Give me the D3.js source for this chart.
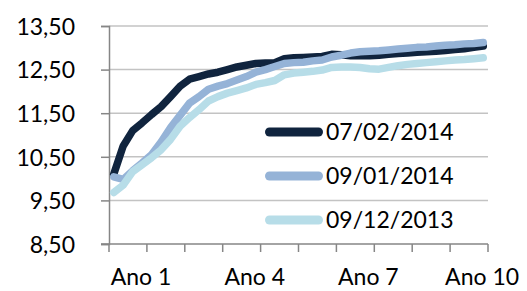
<!DOCTYPE html>
<html>
<head>
<meta charset="utf-8">
<script src="https://cdn.jsdelivr.net/npm/d3@7"></script>
<style>
  html, body { margin: 0; padding: 0; background: #fff; }
  svg { display: block; font-family: Lato, "Open Sans", sans-serif; }
</style>
</head>
<body>
<div id="chart"></div>
<script>
// anos no eixo x (10 anos, pontos trimestrais)
const years = ["Ano 1", "Ano 2", "Ano 3", "Ano 4", "Ano 5", "Ano 6", "Ano 7", "Ano 8", "Ano 9", "Ano 10"];
const shownYears = ["Ano 1", "Ano 4", "Ano 7", "Ano 10"];
const yTicks = [8.5, 9.5, 10.5, 11.5, 12.5, 13.5];

const seriesNames = ["07/02/2014", "09/01/2014", "09/12/2013"];

const curve07022014 = [
  10.10, 10.75, 11.10, 11.28, 11.47, 11.65, 11.88, 12.12, 12.28, 12.34,
  12.40, 12.44, 12.50, 12.56, 12.60, 12.64, 12.65, 12.66, 12.75, 12.77,
  12.78, 12.79, 12.80, 12.85, 12.84, 12.82, 12.82, 12.82, 12.83, 12.85,
  12.87, 12.88, 12.90, 12.91, 12.92, 12.94, 12.96, 12.98, 13.01, 13.04,
];
const curve09012014 = [
  10.04, 9.98, 10.18, 10.36, 10.55, 10.84, 11.17, 11.45, 11.73, 11.88,
  12.05, 12.12, 12.18, 12.26, 12.34, 12.44, 12.50, 12.57, 12.64, 12.66,
  12.67, 12.70, 12.72, 12.79, 12.83, 12.88, 12.91, 12.92, 12.93, 12.95,
  12.97, 12.99, 13.01, 13.02, 13.04, 13.06, 13.07, 13.09, 13.10, 13.12,
];
const curve09122013 = [
  9.68, 9.85, 10.16, 10.32, 10.48, 10.66, 10.90, 11.20, 11.40, 11.58,
  11.78, 11.88, 11.96, 12.02, 12.08, 12.16, 12.20, 12.25, 12.38, 12.42,
  12.44, 12.46, 12.49, 12.55, 12.56, 12.56, 12.55, 12.52, 12.51, 12.55,
  12.59, 12.62, 12.64, 12.66, 12.68, 12.70, 12.72, 12.73, 12.75, 12.77,
];

const colors = ["#10243e", "#95b3d7", "#b7dde8"];

const width = 527;
const height = 291;
const margin = { top: 26, right: 39, bottom: 47, left: 109 };
const fontSize = 23;

const series = seriesNames.map((name, i) => ({
  name,
  color: colors[i],
  values: [curve07022014, curve09012014, curve09122013][i],
}));

const ptsPerYear = curve07022014.length / years.length;

const xYear = d3
  .scaleLinear()
  .domain([0, years.length])
  .range([margin.left, width - margin.right]);
const y = d3
  .scaleLinear()
  .domain([d3.min(yTicks), d3.max(yTicks)])
  .range([height - margin.bottom, margin.top]);

const fmt = d3.formatLocale({ decimal: ",", thousands: ".", grouping: [3], currency: ["R$", ""] }).format(".2f");

const svg = d3
  .select("#chart")
  .append("svg")
  .attr("width", width)
  .attr("height", height)
  .attr("viewBox", [0, 0, width, height]);

// linhas de grade
svg
  .append("g")
  .attr("class", "grid")
  .selectAll("line")
  .data(yTicks.slice(1))
  .join("line")
  .attr("x1", margin.left)
  .attr("x2", width - margin.right)
  .attr("y1", (d) => y(d))
  .attr("y2", (d) => y(d))
  .attr("stroke", "#c3c3c3")
  .attr("stroke-width", 1.5);

// eixo y
const gY = svg.append("g").attr("transform", `translate(${margin.left},0)`);
gY.call(d3.axisLeft(y).tickValues(yTicks).tickSize(8).tickPadding(34 - 8).tickFormat(fmt))
  .call((g) => g.select(".domain").attr("stroke", "#868686").attr("stroke-width", 1.5))
  .call((g) => g.selectAll(".tick line").attr("stroke", "#868686").attr("stroke-width", 1.5))
  .call((g) =>
    g
      .selectAll(".tick text")
      .attr("font-size", fontSize)
      .attr("font-family", "Lato, sans-serif")
      .attr("fill", "#000")
      .attr("dy", "0.36em")
  );

// eixo x
const gX = svg.append("g").attr("transform", `translate(0,${height - margin.bottom})`);
gX.append("line")
  .attr("x1", margin.left - 8)
  .attr("x2", width - margin.right)
  .attr("stroke", "#868686")
  .attr("stroke-width", 1.5);
gX.selectAll(".xtick")
  .data(d3.range(years.length + 1))
  .join("line")
  .attr("class", "xtick")
  .attr("x1", (d) => xYear(d))
  .attr("x2", (d) => xYear(d))
  .attr("y1", 0)
  .attr("y2", 8)
  .attr("stroke", "#868686")
  .attr("stroke-width", 1.5);
gX.selectAll(".xlabel")
  .data(shownYears)
  .join("text")
  .attr("class", "xlabel")
  .attr("x", (d) => xYear(years.indexOf(d)) + 32)
  .attr("y", 41)
  .attr("text-anchor", "middle")
  .attr("font-size", fontSize)
  .text((d) => d);

// séries
const line = d3
  .line()
  .x((d, i) => xYear((i + 0.5) / ptsPerYear))
  .y((d) => y(d));

svg
  .append("g")
  .attr("class", "series")
  .selectAll("path")
  .data(series)
  .join("path")
  .attr("d", (d) => line(d.values))
  .attr("fill", "none")
  .attr("stroke", (d) => d.color)
  .attr("stroke-width", 7.5)
  .attr("stroke-linejoin", "round")
  .attr("stroke-linecap", "round");

// legenda
const legend = svg
  .append("g")
  .attr("class", "legend")
  .selectAll("g")
  .data(series)
  .join("g")
  .attr("transform", (d, i) => `translate(265,${132 + i * 44})`);
legend
  .append("line")
  .attr("x1", 4.5)
  .attr("x2", 53.5)
  .attr("stroke", (d) => d.color)
  .attr("stroke-width", 9)
  .attr("stroke-linecap", "round");
legend
  .append("text")
  .attr("x", 61)
  .attr("y", 8)
  .attr("font-size", fontSize)
  .text((d) => d.name);
</script>
</body>
</html>
